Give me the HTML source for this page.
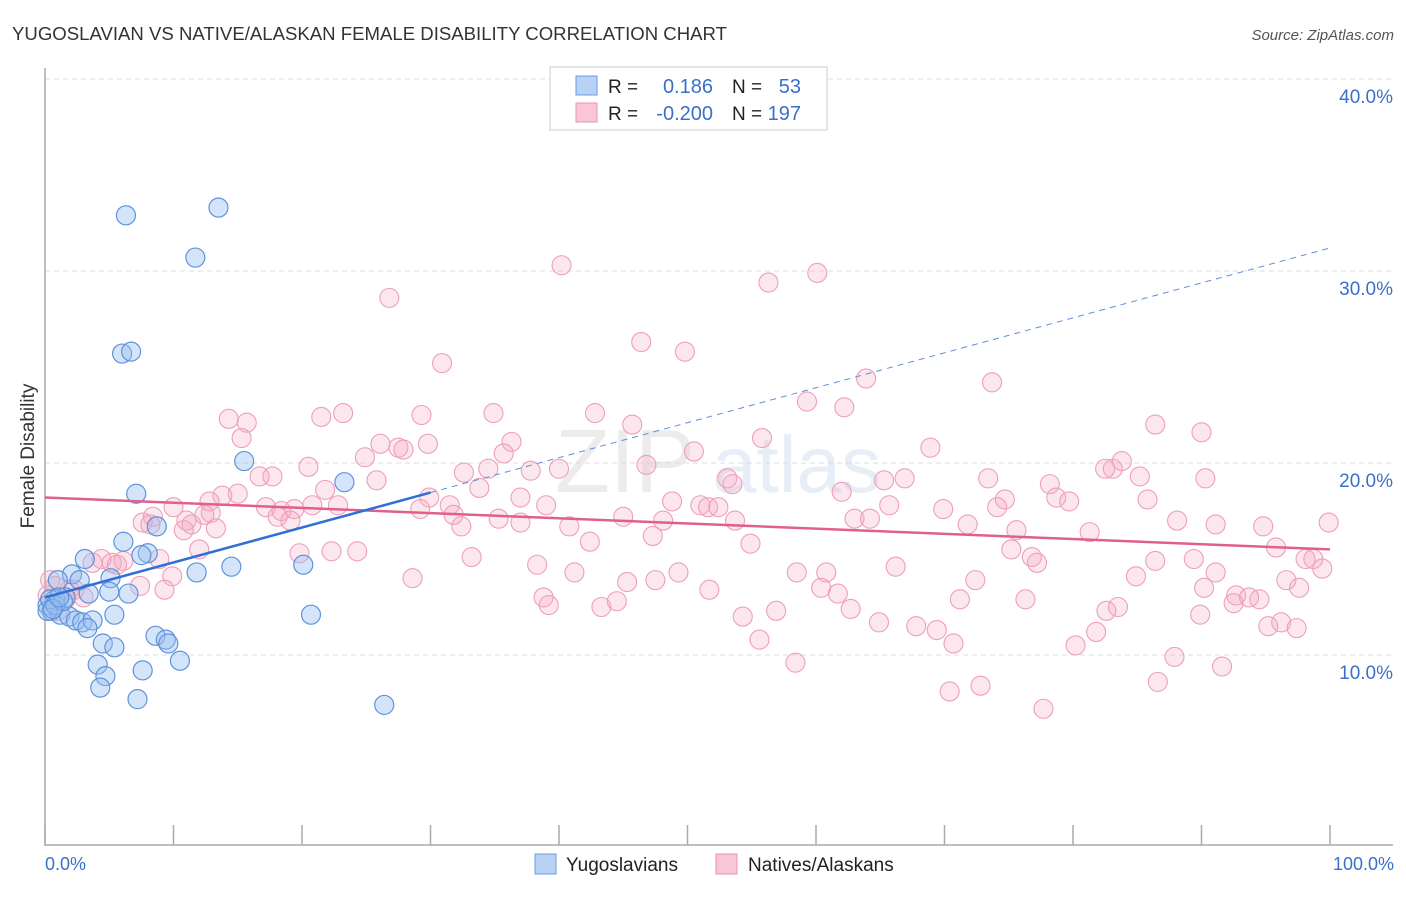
<!DOCTYPE html>
<html><head><meta charset="utf-8"><style>
body{margin:0;background:#fff;font-family:"Liberation Sans",sans-serif}
svg text{font-family:"Liberation Sans",sans-serif}
</style></head><body>
<svg id="chart" width="1406" height="892" xmlns="http://www.w3.org/2000/svg">
<text x="12" y="40" font-size="18" fill="#333" textLength="715" lengthAdjust="spacingAndGlyphs">YUGOSLAVIAN VS NATIVE/ALASKAN FEMALE DISABILITY CORRELATION CHART</text>
<text x="1394" y="40" font-size="15" fill="#555" text-anchor="end" font-style="italic">Source: ZipAtlas.com</text>
<text transform="translate(34,456) rotate(-90)" font-size="19" fill="#333" text-anchor="middle">Female Disability</text>
<g opacity="0.13"><text x="555" y="492" font-size="90" font-family="Liberation Serif" fill="#777">ZIP</text><text x="712" y="492" font-size="80" fill="#4a7fd0">atlas</text></g>
<g id="grid"></g><g id="axes"></g><g id="pink"></g><g id="blue"></g><g id="lines"></g>
<g>
<rect x="550" y="67" width="277" height="63" fill="#fff" stroke="#ccc"/>
<rect x="576" y="76" width="21" height="19" fill="#b8d2f5" stroke="#6a9be0"/>
<rect x="576" y="103" width="21" height="19" fill="#f9c6d5" stroke="#ec93b0"/>
<text x="608" y="93" font-size="19" fill="#222">R =</text><text x="713" y="93" font-size="20" fill="#3a70c8" text-anchor="end">0.186</text>
<text x="732" y="93" font-size="19" fill="#222">N =</text><text x="801" y="93" font-size="20" fill="#3a70c8" text-anchor="end">53</text>
<text x="608" y="120" font-size="19" fill="#222">R =</text><text x="713" y="120" font-size="20" fill="#3a70c8" text-anchor="end">-0.200</text>
<text x="732" y="120" font-size="19" fill="#222">N =</text><text x="801" y="120" font-size="20" fill="#3a70c8" text-anchor="end">197</text>
</g>
<g>
<rect x="535" y="854" width="21" height="20" fill="#b8d2f5" stroke="#6a9be0"/>
<text x="566" y="871" font-size="19" fill="#222">Yugoslavians</text>
<rect x="716" y="854" width="21" height="20" fill="#f9c6d5" stroke="#ec93b0"/>
<text x="748" y="871" font-size="19" fill="#222">Natives/Alaskans</text>
</g>
<text x="45" y="870" font-size="18" fill="#3a70c8">0.0%</text>
<text x="1394" y="870" font-size="18" fill="#3a70c8" text-anchor="end">100.0%</text>
</svg>
<script>
const yTicks=[10,20,30,40];
const yTickLabels=["10.0%","20.0%","30.0%","40.0%"];
const xTicks=[0,10,20,30,40,50,60,70,80,90,100];
const blueX=[6.3,13.5,11.7,6.0,6.7,15.5,7.1,23.3,8.7,6.1,8.0,7.5,3.1,14.5,20.1,11.8,2.1,5.1,2.7,1.0,6.5,5.0,3.4,1.6,0.8,0.2,0.5,1.2,1.9,2.4,2.9,3.7,3.3,5.4,20.7,8.6,9.4,9.6,4.5,5.4,10.5,4.1,7.6,4.7,4.3,7.2,26.4,0.2,0.4,0.8,1.4,0.6,1.1];
const blueY=[32.9,33.3,30.7,25.7,25.8,20.1,18.4,19.0,16.7,15.9,15.3,15.2,15.0,14.6,14.7,14.3,14.2,14.0,13.9,13.9,13.2,13.3,13.2,13.0,12.9,12.6,12.3,12.1,12.0,11.8,11.7,11.8,11.4,12.1,12.1,11.0,10.8,10.6,10.6,10.4,9.7,9.5,9.2,8.9,8.3,7.7,7.4,12.3,12.9,12.6,12.8,12.4,13.0];
const pinkX=[40.2,60.1,56.3,26.8,46.4,49.8,30.9,63.9,73.7,59.3,62.2,14.3,21.5,23.2,29.3,34.9,42.8,15.7,45.7,86.4,90.0,15.3,55.8,26.1,27.5,29.8,36.3,27.9,68.9,24.9,50.5,35.7,20.5,32.6,34.5,37.8,40.0,46.8,83.1,82.5,83.8,85.2,90.3,73.4,66.9,65.3,17.7,16.7,53.1,53.5,25.8,21.8,15.0,13.8,12.8,29.9,33.8,37.0,62.0,78.2,78.7,79.7,85.8,69.9,48.8,51.0,51.6,52.4,10.0,17.2,18.4,19.4,22.8,20.8,31.5,31.8,8.4,11.0,11.4,12.4,12.9,7.6,8.2,18.1,19.1,29.2,35.3,37.0,39.0,45.0,48.1,53.7,63.0,64.2,65.7,71.8,74.1,74.7,75.6,81.3,88.1,91.1,94.8,99.9,10.8,13.3,32.4,40.8,42.4,47.3,54.9,12.0,19.8,22.3,24.3,33.2,38.3,41.2,8.9,4.4,5.2,6.1,3.7,5.6,75.2,76.8,77.2,86.4,89.4,95.8,98.1,98.7,99.4,66.2,49.3,58.5,60.8,9.9,7.4,9.3,28.6,45.3,47.5,72.4,84.9,91.1,96.6,97.6,90.2,94.5,92.7,93.7,92.5,60.4,61.7,51.7,38.8,39.2,43.3,44.5,71.2,76.3,82.6,83.5,89.9,54.3,56.9,62.7,64.9,67.8,69.4,70.7,81.8,96.2,95.2,97.4,55.6,80.2,87.9,91.6,58.4,70.4,72.8,77.7,86.6,2.3,0.8,1.6,0.2,1.0,1.9,3.0,0.4];
const pinkY=[30.3,29.9,29.4,28.6,26.3,25.8,25.2,24.4,24.2,23.2,22.9,22.3,22.4,22.6,22.5,22.6,22.6,22.1,22.0,22.0,21.6,21.3,21.3,21.0,20.8,21.0,21.1,20.7,20.8,20.3,20.6,20.5,19.8,19.5,19.7,19.6,19.7,19.9,19.7,19.7,20.1,19.3,19.2,19.2,19.2,19.1,19.3,19.3,19.2,18.9,19.1,18.6,18.4,18.3,18.0,18.2,18.7,18.2,18.5,18.9,18.2,18.0,18.1,17.6,18.0,17.8,17.7,17.7,17.7,17.7,17.5,17.6,17.8,17.8,17.8,17.3,17.2,17.0,16.8,17.3,17.4,16.9,16.8,17.2,17.0,17.6,17.1,16.9,17.8,17.2,17.0,17.0,17.1,17.1,17.8,16.8,17.7,18.1,16.5,16.4,17.0,16.8,16.7,16.9,16.5,16.6,16.7,16.7,15.9,16.2,15.8,15.5,15.3,15.4,15.4,15.1,14.7,14.3,15.0,15.0,14.8,14.9,14.8,14.7,15.5,15.1,14.8,14.9,15.0,15.6,15.0,15.0,14.5,14.6,14.3,14.3,14.3,14.1,13.6,13.4,14.0,13.8,13.9,13.9,14.1,14.3,13.9,13.5,13.5,12.9,13.1,13.0,12.7,13.5,13.2,13.4,13.0,12.6,12.5,12.8,12.9,12.9,12.3,12.5,12.1,12.0,12.3,12.4,11.7,11.5,11.3,10.6,11.2,11.7,11.5,11.4,10.8,10.5,9.9,9.4,9.6,8.1,8.4,7.2,8.6,13.4,13.6,12.9,13.1,12.3,13.4,13.0,13.9];
const blueLine=[13.0,31.2];
const blueSolidEnd=30;
const pinkLine=[18.2,15.5];
const NS="http://www.w3.org/2000/svg";
const X0=45,X1=1330,YB=847,PPY=19.2;
const sx=v=>X0+(X1-X0)*v/100;
const sy=v=>YB-v*PPY;
function mk(tag,attrs,parent){const e=document.createElementNS(NS,tag);for(const k in attrs)e.setAttribute(k,attrs[k]);parent.appendChild(e);return e;}
const grid=document.getElementById('grid'),axes=document.getElementById('axes');
yTicks.forEach((t,i)=>{
 const l=mk('line',{x1:X0,x2:1393,y1:sy(t),y2:sy(t),stroke:'#ddd','stroke-dasharray':'5,4'},grid);
 
 
 const tx=mk('text',{x:1393,y:sy(t)+24,'font-size':19,fill:'#3a70c8','text-anchor':'end'},axes);
 tx.textContent=yTickLabels[i];
 
 
});
const topg=mk('line',{x1:X0,x2:1393,y1:79,y2:79,stroke:'#ddd','stroke-dasharray':'5,4'},grid);


const ya=mk('line',{x1:X0,x2:X0,y1:68,y2:846,stroke:'#aaa','stroke-width':1.5},axes);


const xa=mk('line',{x1:X0,x2:1393,y1:845,y2:845,stroke:'#aaa','stroke-width':1.5},axes);


xTicks.forEach(t=>{
 const l=mk('line',{x1:sx(t),x2:sx(t),y1:825,y2:845,stroke:'#aaa','stroke-width':1.5},axes);
 
 
});
const pg=document.getElementById('pink');
pinkX.forEach((x,i)=>{
 const c=mk('circle',{cx:sx(x),cy:sy(pinkY[i]),r:9.5,fill:'rgba(246,170,194,0.28)',stroke:'#ee9fb8','stroke-width':1.1},pg);
 
 
});
const bg=document.getElementById('blue');
blueX.forEach((x,i)=>{
 const c=mk('circle',{cx:sx(x),cy:sy(blueY[i]),r:9.5,fill:'rgba(150,190,240,0.4)',stroke:'#5f93dc','stroke-width':1.2},bg);
 
 
});
const lg=document.getElementById('lines');
const by=x=>blueLine[0]+(blueLine[1]-blueLine[0])*x/100;
const py=x=>pinkLine[0]+(pinkLine[1]-pinkLine[0])*x/100;
const pl=mk('line',{x1:sx(0),y1:sy(py(0)),x2:sx(100),y2:sy(py(100)),stroke:'#e0608c','stroke-width':2.5},lg);


const bl=mk('line',{x1:sx(0),y1:sy(by(0)),x2:sx(blueSolidEnd),y2:sy(by(blueSolidEnd)),stroke:'#2f6fd6','stroke-width':2.5},lg);


const bd=mk('line',{x1:sx(blueSolidEnd),y1:sy(by(blueSolidEnd)),x2:sx(100),y2:sy(by(100)),stroke:'#5f8fd8','stroke-width':1,'stroke-dasharray':'6,5'},lg);


</script>
</body></html>
